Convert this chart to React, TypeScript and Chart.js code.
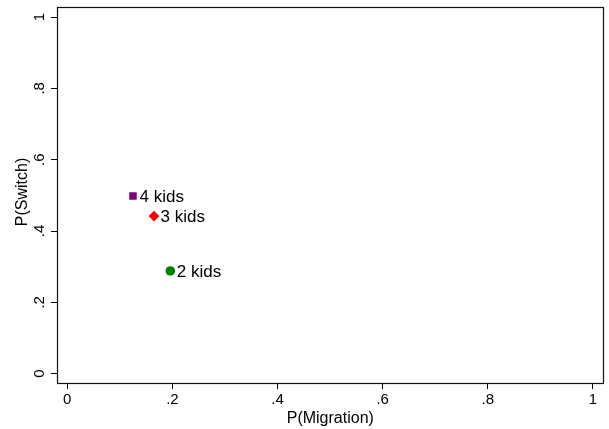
import React, { useEffect, useRef } from "react";
import { Chart, registerables } from "chart.js";

Chart.register(...registerables);

const pointLabels = ["4 kids", "3 kids", "2 kids"];
const migration = [0.125, 0.165, 0.196];
const switchProb = [0.498, 0.442, 0.288];
const pointColors = ["#800080", "#ff0000", "#008000"];
const pointShapes = ["rect", "rectRot", "circle"];
const pointRadii = [5.3, 5.4, 4.8];
const tickValues = [0, 0.2, 0.4, 0.6, 0.8, 1];
const tickLabels = ["0", ".2", ".4", ".6", ".8", "1"];
const xTitle = "P(Migration)";
const yTitle = "P(Switch)";

const FONT = "'Liberation Sans', Arial, sans-serif";

export default function App() {
  const ref = useRef<HTMLCanvasElement | null>(null);

  useEffect(() => {
    const canvas = ref.current;
    if (!canvas) return;

    const overlay = {
      id: "stataOverlay",
      afterDraw(chart: any) {
        const ctx = chart.ctx;
        const area = chart.chartArea;
        const ys = chart.scales.y;
        const xs = chart.scales.x;
        ctx.save();
        // plot box
        ctx.strokeStyle = "#111";
        ctx.lineWidth = 1.2;
        ctx.strokeRect(
          Math.round(area.left) + 0.5,
          Math.round(area.top) + 0.5,
          Math.round(area.right) - Math.round(area.left) - 1,
          Math.round(area.bottom) - Math.round(area.top)
        );
        // y tick labels, rotated
        ctx.fillStyle = "#000";
        ctx.font = `15px ${FONT}`;
        ctx.textAlign = "center";
        ctx.textBaseline = "alphabetic";
        tickValues.forEach((v, i) => {
          const py = ys.getPixelForValue(v);
          ctx.save();
          ctx.translate(43.5, py);
          ctx.rotate(-Math.PI / 2);
          ctx.fillText(tickLabels[i], 0, 0);
          ctx.restore();
        });
        // axis titles
        ctx.font = `16px ${FONT}`;
        ctx.save();
        ctx.translate(26.5, (area.top + area.bottom) / 2 - 3);
        ctx.rotate(-Math.PI / 2);
        ctx.fillText(yTitle, 0, 0);
        ctx.restore();
        ctx.fillText(xTitle, (xs.left + xs.right) / 2, 423);
        // point labels
        ctx.font = `17px ${FONT}`;
        ctx.textAlign = "left";
        const meta = chart.getDatasetMeta(0);
        meta.data.forEach((el: any, i: number) => {
          ctx.fillText(pointLabels[i], el.x + 6.5, el.y + 6);
        });
        ctx.restore();
      },
    };

    const chart = new Chart(canvas, {
      type: "scatter",
      data: {
        datasets: [
          {
            data: migration.map((x, i) => ({ x, y: switchProb[i] })),
            backgroundColor: pointColors,
            borderColor: pointColors,
            borderWidth: 0,
            pointStyle: pointShapes as any,
            pointRadius: pointRadii,
            pointHoverRadius: pointRadii,
          },
        ],
      },
      options: {
        responsive: false,
        animation: false,
        events: [],
        layout: { padding: { left: 0, top: 7, right: 4, bottom: 0 } },
        plugins: {
          legend: { display: false },
          tooltip: { enabled: false },
          title: { display: false },
        },
        scales: {
          x: {
            type: "linear",
            min: -0.01954,
            max: 1.0203,
            afterBuildTicks: (scale: any) => {
              scale.ticks = tickValues.map((v) => ({ value: v }));
            },
            afterFit: (scale: any) => {
              scale.height = 46;
            },
            grid: {
              display: true,
              drawOnChartArea: false,
              drawTicks: true,
              tickLength: 6,
              color: "#000",
              lineWidth: 1,
            },
            border: { display: false },
            ticks: {
              autoSkip: false,
              maxRotation: 0,
              minRotation: 0,
              padding: 2,
              color: "#000",
              font: { family: FONT, size: 15 },
              callback: (v: any) => {
                const i = tickValues.findIndex((t) => Math.abs(t - Number(v)) < 1e-9);
                return i >= 0 ? tickLabels[i] : "";
              },
            },
            title: { display: false },
          },
          y: {
            type: "linear",
            min: -0.02607,
            max: 1.02804,
            afterBuildTicks: (scale: any) => {
              scale.ticks = tickValues.map((v) => ({ value: v }));
            },
            afterFit: (scale: any) => {
              scale.width = 57;
            },
            grid: {
              display: true,
              drawOnChartArea: false,
              drawTicks: true,
              tickLength: 6,
              color: "#000",
              lineWidth: 1,
            },
            border: { display: false },
            ticks: { display: false },
            title: { display: false },
          },
        },
      },
      plugins: [overlay],
    });

    return () => chart.destroy();
  }, []);

  return (
    <div style={{ position: "absolute", left: 0, top: 0, width: 609, height: 429, background: "#fff" }}>
      <canvas ref={ref} width={609} height={429} style={{ display: "block", width: 609, height: 429 }} />
    </div>
  );
}
